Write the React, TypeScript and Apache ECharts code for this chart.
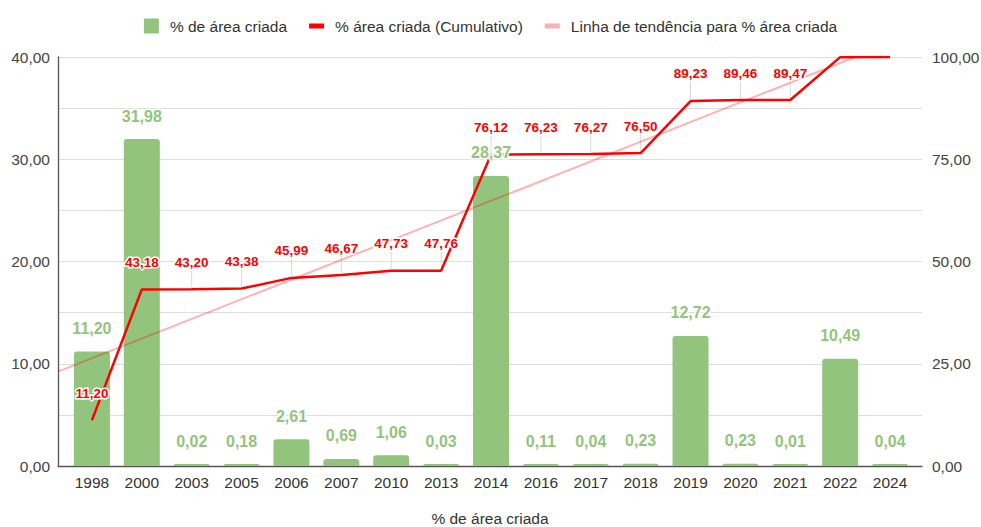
import React, { useEffect, useRef } from "react";
import * as echarts from "echarts";

// ---- data ----
const categories = ["1998", "2000", "2003", "2005", "2006", "2007", "2010", "2013", "2014", "2016", "2017", "2018", "2019", "2020", "2021", "2022", "2024"];
const areaPct = [11.2, 31.98, 0.02, 0.18, 2.61, 0.69, 1.06, 0.03, 28.37, 0.11, 0.04, 0.23, 12.72, 0.23, 0.01, 10.49, 0.04];
const cumulativePct = [11.2, 43.18, 43.2, 43.38, 45.99, 46.67, 47.73, 47.76, 76.12, 76.23, 76.27, 76.5, 89.23, 89.46, 89.47, 99.96, 100.0];
const cumulativeLabelledCount = 15; // the last two points carry no label in the reference
const leftAxisRange = [0, 40];
const rightAxisRange = [0, 100];

const seriesNames = ["% de área criada", "% área criada (Cumulativo)", "Linha de tendência para % área criada"];
const xAxisName = "% de área criada";

// ---- styling ----
const FONT = "'Liberation Sans', Arial, sans-serif";
const GREEN = "#93c47d";
const RED = "#ff0000";
const TREND = "rgba(255,0,0,0.3)";
const TEXT = "#444444";
const W = 981;
const H = 527;
const G0 = { left: 58, right: 59, top: 57, bottom: 61 };
const G1 = { left: 67, right: 66, top: 57, bottom: 61 };

const fmt = (v: number) => v.toFixed(2).replace(".", ",");

// padded icon so a thin bar keeps its shape inside a square legend box
const lineIcon = "path://M0,0L0.01,0L0.01,0.01ZM0,5L15,5L15,10L0,10ZM14.99,14.99L15,14.99L15,15Z";

export default function App() {
  const ref = useRef<HTMLDivElement>(null);

  useEffect(() => {
    if (!ref.current) return;
    const chart = echarts.init(ref.current, undefined, { renderer: "svg" });

    // least-squares trend of the cumulative series (as the sheet's trendline)
    const n = cumulativePct.length;
    const mx = (n - 1) / 2;
    const my = cumulativePct.reduce((a, b) => a + b, 0) / n;
    let sxy = 0;
    let sxx = 0;
    cumulativePct.forEach((y, i) => {
      sxy += (i - mx) * (y - my);
      sxx += (i - mx) * (i - mx);
    });
    const slope = sxy / sxx;
    const intercept = my - slope * mx;

    const band = (W - G1.left - G1.right) / categories.length;
    const xMin = -0.5 - (G1.left - G0.left) / band;
    const xMax = categories.length - 0.5 + (G1.right - G0.right) / band;
    const trendData = [
      [xMin, intercept + slope * xMin],
      [xMax, intercept + slope * xMax],
    ];

    const cumData = cumulativePct.map((v, i) =>
      i < cumulativeLabelledCount ? v : { value: v, label: { show: false } }
    );

    chart.setOption({
      animation: false,
      textStyle: { fontFamily: FONT },
      legend: {
        top: 13,
        left: "center",
        itemWidth: 15,
        itemHeight: 15,
        itemGap: 22,
        textStyle: { fontFamily: FONT, fontSize: 15.5, color: "#333", padding: [0, 0, 0, 6] },
        data: [
          { name: seriesNames[0], icon: "rect", itemStyle: { color: GREEN } },
          { name: seriesNames[1], icon: lineIcon, itemStyle: { color: RED } },
          { name: seriesNames[2], icon: lineIcon, itemStyle: { color: "#f7b3b3" } },
        ],
      },
      grid: [
        { ...G0, containLabel: false, outerBoundsMode: "none" },
        { ...G1, containLabel: false, outerBoundsMode: "none" },
      ],
      xAxis: [
        {
          type: "value",
          gridIndex: 0,
          min: xMin,
          max: xMax,
          axisLine: { show: true, onZero: false, lineStyle: { color: "#555", width: 1.3 } },
          axisTick: { show: false },
          axisLabel: { show: false },
          splitLine: { show: false },
          name: xAxisName,
          nameLocation: "middle",
          nameGap: 44,
          nameTextStyle: { fontFamily: FONT, fontSize: 15.5, color: "#333" },
        },
        {
          type: "category",
          gridIndex: 1,
          data: categories,
          boundaryGap: true,
          axisLine: { show: false },
          axisTick: { show: false },
          axisLabel: { fontFamily: FONT, fontSize: 15.5, color: "#333", margin: 8, interval: 0 },
        },
      ],
      yAxis: [
        {
          type: "value",
          gridIndex: 0,
          position: "left",
          min: leftAxisRange[0],
          max: leftAxisRange[1],
          interval: 5,
          axisLine: { show: true, onZero: false, lineStyle: { color: "#555", width: 1.3 } },
          axisTick: { show: false },
          axisLabel: {
            fontFamily: FONT,
            fontSize: 15.5,
            color: TEXT,
            margin: 8,
            formatter: (v: number) => (v % 10 === 0 ? fmt(v) : ""),
          },
          splitLine: { lineStyle: { color: "#dddddd", width: 1 } },
        },
        {
          type: "value",
          gridIndex: 0,
          position: "right",
          min: rightAxisRange[0],
          max: rightAxisRange[1],
          interval: 25,
          axisLine: { show: false, onZero: false },
          axisTick: { show: false },
          axisLabel: { fontFamily: FONT, fontSize: 15.5, color: TEXT, margin: 10, formatter: (v: number) => fmt(v) },
          splitLine: { show: false },
        },
        { type: "value", gridIndex: 1, min: leftAxisRange[0], max: leftAxisRange[1], show: false, splitLine: { show: false } },
        { type: "value", gridIndex: 1, min: rightAxisRange[0], max: rightAxisRange[1], show: false, splitLine: { show: false } },
      ],
      series: [
        {
          name: seriesNames[0],
          type: "bar",
          xAxisIndex: 1,
          yAxisIndex: 2,
          data: areaPct,
          barWidth: 36,
          barMinHeight: 2,
          itemStyle: { color: GREEN, borderRadius: [3, 3, 0, 0] },
          label: { show: false },
          z: 2,
        },
        {
          name: "barLabels",
          type: "bar",
          xAxisIndex: 1,
          yAxisIndex: 2,
          data: areaPct,
          barWidth: 36,
          barGap: "-100%",
          barMinHeight: 2,
          silent: true,
          itemStyle: { color: "rgba(0,0,0,0)" },
          label: {
            show: true,
            position: "top",
            distance: 15,
            fontFamily: FONT,
            fontSize: 16,
            fontWeight: "bold",
            color: GREEN,
            textBorderColor: "#fff",
            textBorderWidth: 3,
            formatter: (p: any) => fmt(p.value),
          },
          z: 6,
        },
        {
          name: "leaders",
          type: "custom",
          xAxisIndex: 1,
          yAxisIndex: 3,
          data: cumulativePct.slice(0, cumulativeLabelledCount).map((v, i) => [i, v]),
          renderItem: (_params: any, api: any) => {
            const p = api.coord([api.value(0), api.value(1)]);
            return {
              type: "line",
              shape: { x1: p[0], y1: p[1] - 2, x2: p[0], y2: p[1] - 20 },
              style: { stroke: "#d9d9d9", lineWidth: 1 },
            };
          },
          silent: true,
          z: 1,
        },
        {
          name: seriesNames[2],
          type: "line",
          xAxisIndex: 0,
          yAxisIndex: 1,
          data: trendData,
          symbol: "none",
          clip: true,
          lineStyle: { color: TREND, width: 2 },
          itemStyle: { color: TREND },
          z: 3,
        },
        {
          name: seriesNames[1],
          type: "line",
          xAxisIndex: 1,
          yAxisIndex: 3,
          data: cumData,
          symbol: "circle",
          symbolSize: 0.1,
          lineStyle: { color: RED, width: 2.5 },
          itemStyle: { color: RED },
          label: {
            show: true,
            position: "top",
            distance: 20,
            fontFamily: FONT,
            fontSize: 13.5,
            fontWeight: "bold",
            color: RED,
            textBorderColor: "#fff",
            textBorderWidth: 3,
            formatter: (p: any) => fmt(p.value),
          },
          z: 4,
        },
      ],
    });

    return () => chart.dispose();
  }, []);

  return <div ref={ref} style={{ position: "fixed", left: 0, top: 0, width: W, height: H, background: "#fff" }} />;
}
